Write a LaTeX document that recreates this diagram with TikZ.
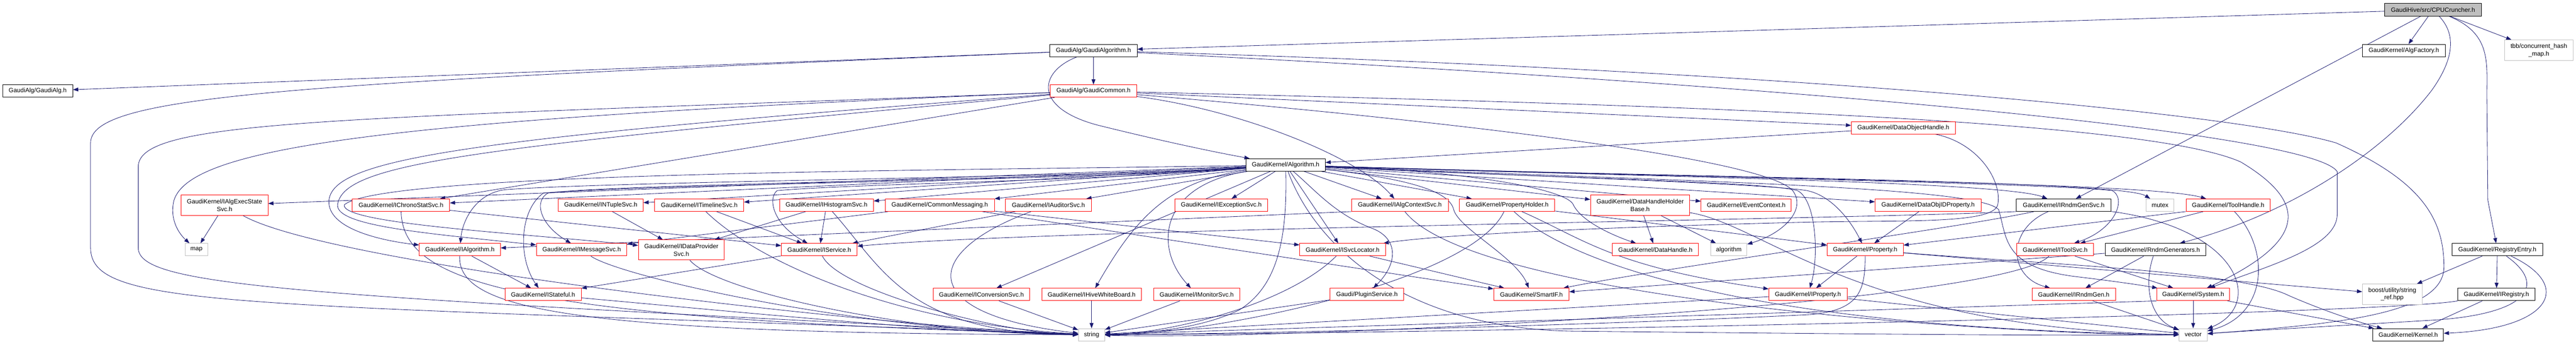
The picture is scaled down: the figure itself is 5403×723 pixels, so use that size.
\documentclass[tikz,border=0pt]{standalone}
\usepackage{fontspec}
\setmainfont{Liberation Sans}
\usetikzlibrary{arrows.meta}
\definecolor{edgec}{RGB}{25,25,112}
\definecolor{grayb}{RGB}{191,191,191}
\pgfdeclarelayer{bg}
\pgfsetlayers{bg,main}
\begin{document}
\begin{tikzpicture}[x=1pt,y=-1pt,
  box/.style={rectangle, fill=white, inner sep=0pt, minimum height=26pt, align=center, font=\fontsize{13}{16}\selectfont, line width=1pt},
  bk/.style={box, draw=black},
  rd/.style={box, draw=red},
  gy/.style={box, draw=grayb},
  tl/.style={minimum height=43pt},
  e/.style={draw=edgec, line width=0.9pt, -{Triangle[length=11pt,width=8pt]}}]
\useasboundingbox (0,0) rectangle (5403,723);
% rank 0-3
\node[bk, fill=grayb, minimum width=204pt] (cpu) at (5103,20.5) {GaudiHive/src/CPUCruncher.h};
\node[bk, minimum width=183pt] (galgorithm) at (2293.5,106) {GaudiAlg/GaudiAlgorithm.h};
\node[bk, minimum width=174pt] (algfactory) at (5042,106) {GaudiKernel/AlgFactory.h};
\node[gy, tl, minimum width=144pt] (tbb) at (5325,105.5) {tbb/concurrent\_hash\\\_map.h};
\node[bk, minimum width=147pt] (galg) at (79,191) {GaudiAlg/GaudiAlg.h};
\node[rd, minimum width=181pt] (gcommon) at (2293.5,191) {GaudiAlg/GaudiCommon.h};
\node[rd, minimum width=218pt] (doh) at (3992,268) {GaudiKernel/DataObjectHandle.h};
\node[bk, minimum width=166pt] (algorithm) at (2696.5,346) {GaudiKernel/Algorithm.h};
% rank 4
\node[rd, tl, minimum width=182pt] (ialgexec) at (471,430.5) {GaudiKernel/IAlgExecState\\Svc.h};
\node[rd, minimum width=204pt] (ichrono) at (841,430.5) {GaudiKernel/IChronoStatSvc.h};
\node[rd, minimum width=178pt] (intuple) at (1260,430.5) {GaudiKernel/INTupleSvc.h};
\node[rd, minimum width=187pt] (itimeline) at (1466.5,430.5) {GaudiKernel/ITimelineSvc.h};
\node[rd, minimum width=197pt] (ihisto) at (1733.5,430.5) {GaudiKernel/IHistogramSvc.h};
\node[rd, minimum width=229pt] (commonmsg) at (1971,430.5) {GaudiKernel/CommonMessaging.h};
\node[rd, minimum width=180pt] (iauditor) at (2199,430.5) {GaudiKernel/IAuditorSvc.h};
\node[rd, minimum width=195pt] (iexception) at (2561.5,430.5) {GaudiKernel/IExceptionSvc.h};
\node[rd, minimum width=203pt] (ialgcontext) at (2936,430.5) {GaudiKernel/IAlgContextSvc.h};
\node[rd, minimum width=200pt] (propholder) at (3161,430.5) {GaudiKernel/PropertyHolder.h};
\node[rd, tl, minimum width=208pt] (dhhb) at (3440,430.5) {GaudiKernel/DataHandleHolder\\Base.h};
\node[rd, minimum width=189pt] (eventctx) at (3662.5,430.5) {GaudiKernel/EventContext.h};
\node[rd, minimum width=222pt] (dataobjid) at (4044,430.5) {GaudiKernel/DataObjIDProperty.h};
\node[bk, minimum width=199pt] (irndmgensvc) at (4328.5,430.5) {GaudiKernel/IRndmGenSvc.h};
\node[gy, minimum width=59pt] (mutex) at (4530.5,430.5) {mutex};
\node[rd, minimum width=177pt] (toolhandle) at (4673.5,430.5) {GaudiKernel/ToolHandle.h};
% rank 5
\node[gy, minimum width=48pt] (map) at (412,524) {map};
\node[rd, minimum width=170pt] (ialgorithm) at (964.5,524) {GaudiKernel/IAlgorithm.h};
\node[rd, minimum width=190pt] (imessage) at (1220,524) {GaudiKernel/IMessageSvc.h};
\node[rd, minimum height=42pt, minimum width=180pt] (idataprov) at (1429,524.5) {GaudiKernel/IDataProvider\\Svc.h};
\node[rd, minimum width=159pt] (iservice) at (1718.5,524) {GaudiKernel/IService.h};
\node[rd, minimum width=180pt] (isvcloc) at (2816,524) {GaudiKernel/ISvcLocator.h};
\node[rd, minimum width=180pt] (datahandle) at (3472,524) {GaudiKernel/DataHandle.h};
\node[gy, minimum width=76pt] (stdalgo) at (3626,524) {algorithm};
\node[rd, minimum width=160pt] (property) at (3912,524) {GaudiKernel/Property.h};
\node[rd, minimum width=161pt] (itoolsvc) at (4310.5,524) {GaudiKernel/IToolSvc.h};
\node[bk, minimum width=211pt] (rndmgens) at (4521,524) {GaudiKernel/RndmGenerators.h};
\node[bk, minimum width=191pt] (registry) at (5238,524) {GaudiKernel/RegistryEntry.h};
% rank 6
\node[rd, minimum width=160pt] (istateful) at (1139,618) {GaudiKernel/IStateful.h};
\node[rd, minimum width=203pt] (iconversion) at (2058.5,618) {GaudiKernel/IConversionSvc.h};
\node[rd, minimum width=209pt] (ihive) at (2289.5,618) {GaudiKernel/IHiveWhiteBoard.h};
\node[rd, minimum width=181pt] (imonitor) at (2510,618) {GaudiKernel/IMonitorSvc.h};
\node[rd, minimum width=155pt] (plugin) at (2867,618) {Gaudi/PluginService.h};
\node[rd, minimum width=158pt] (smartif) at (3212,618) {GaudiKernel/SmartIF.h};
\node[rd, minimum width=164pt] (iproperty) at (3792,618) {GaudiKernel/IProperty.h};
\node[rd, minimum width=175pt] (irndmgen) at (4349.5,618) {GaudiKernel/IRndmGen.h};
\node[rd, minimum width=153pt] (system) at (4600,618) {GaudiKernel/System.h};
\node[gy, tl, minimum width=125pt] (stringref) at (5017.5,617.5) {boost/utility/string\\\_ref.hpp};
\node[bk, minimum width=162pt] (iregistry) at (5236,618) {GaudiKernel/IRegistry.h};
% rank 7
\node[gy, minimum width=55pt] (string) at (2289.5,702.5) {string};
\node[gy, minimum width=59pt] (vector) at (4600,702.5) {vector};
\node[bk, minimum width=148pt] (kernel) at (5051,702.5) {GaudiKernel/Kernel.h};

\begin{pgfonlayer}{bg}
% CPUCruncher
\draw[e] (cpu) -- (galgorithm);
\draw[e] (cpu) -- (algfactory);
\draw[e] (cpu) -- (tbb);
\draw[e] (cpu) -- (irndmgensvc);
\draw[e] (cpu) .. controls (5225,70) and (5216,130) .. (5216,200) -- (5218,420) -- (registry);
\draw[e] (cpu) .. controls (5150,70) and (5150,120) .. (5100,190) .. controls (5000,320) and (4800,450) .. (rndmgens);
% GaudiAlgorithm
\draw[e] (galgorithm) -- (galg);
\draw[e] (galgorithm) -- (gcommon);
\draw[e] (galgorithm) .. controls (2180,150) and (2165,225) .. (2300,262) .. controls (2420,292) and (2540,318) .. (algorithm);
\draw[e] (galgorithm) .. controls (600,175) and (190,200) .. (190,300) -- (190,520) .. controls (190,650) and (500,635) .. (string);
\draw[e] (galgorithm) .. controls (3800,150) and (4700,240) .. (4900,300) .. controls (5080,380) and (5126,460) .. (5126,560) .. controls (5126,660) and (4900,680) .. (vector);
\draw[e] (galgorithm) .. controls (3800,180) and (4850,280) .. (4902,360) -- (4902,450) .. controls (4902,520) and (4750,560) .. (system);
% GaudiCommon
\draw[e] (gcommon) -- (doh);
\draw[e] (gcommon) -- (ichrono);
\draw[e] (gcommon) .. controls (800,250) and (400,310) .. (365,420) .. controls (355,460) and (375,490) .. (map);
\draw[e] (gcommon) .. controls (1000,290) and (700,330) .. (690,420) .. controls (685,480) and (800,505) .. (ialgorithm);
\draw[e] (gcommon) .. controls (1000,310) and (720,340) .. (708,430) .. controls (705,475) and (900,490) .. (imessage);
\draw[e] (gcommon) .. controls (700,250) and (290,250) .. (290,350) -- (290,520) .. controls (290,600) and (600,620) .. (string);
\draw[e] (gcommon) .. controls (2600,230) and (2850,330) .. (ialgcontext);
\draw[e] (gcommon) .. controls (3000,250) and (3700,330) .. (3760,400) .. controls (3790,440) and (3740,490) .. (stdalgo);
\draw[e] (gcommon) .. controls (3500,220) and (4500,250) .. (4700,340) .. controls (4850,430) and (4830,510) .. (system);
% DataObjectHandle
\draw[e] (doh) -- (algorithm);
\draw[e] (doh) .. controls (4150,300) and (4200,380) .. (4190,430) .. controls (4180,470) and (4000,462) .. (3800,466) .. controls (3300,478) and (3000,495) .. (isvcloc);
% Algorithm -> rank 4
\draw[e] (algorithm) -- (ialgexec);
\draw[e] (algorithm) -- (ichrono);
\draw[e] (algorithm) -- (intuple);
\draw[e] (algorithm) -- (itimeline);
\draw[e] (algorithm) -- (ihisto);
\draw[e] (algorithm) -- (commonmsg);
\draw[e] (algorithm) -- (iauditor);
\draw[e] (algorithm) -- (iexception);
\draw[e] (algorithm) -- (ialgcontext);
\draw[e] (algorithm) -- (propholder);
\draw[e] (algorithm) -- (dhhb);
\draw[e] (algorithm) -- (eventctx);
\draw[e] (algorithm) -- (dataobjid);
\draw[e] (algorithm) .. controls (3400,370) and (4200,380) .. (irndmgensvc);
\draw[e] (algorithm) .. controls (3500,372) and (4450,378) .. (mutex);
\draw[e] (algorithm) .. controls (3500,374) and (4500,380) .. (toolhandle);
% Algorithm -> lower ranks
\draw[e] (algorithm) .. controls (2300,372) and (1300,380) .. (1060,398) .. controls (1000,405) and (970,460) .. (ialgorithm);
\draw[e] (algorithm) .. controls (2300,375) and (1300,385) .. (1150,405) .. controls (1120,420) and (1130,470) .. (imessage);
\draw[e] (algorithm) .. controls (2300,380) and (1800,385) .. (1630,400) .. controls (1610,415) and (1620,470) .. (iservice);
\draw[e] (algorithm) .. controls (2300,378) and (1400,385) .. (1140,405) .. controls (1090,440) and (1085,540) .. (istateful);
\draw[e] (algorithm) .. controls (2000,358) and (800,360) .. (722,430) .. controls (715,470) and (1100,490) .. (idataprov);
\draw[e] (algorithm) -- (isvcloc);
\draw[e] (algorithm) -- (iconversion);
\draw[e] (algorithm) .. controls (2450,380) and (2380,460) .. (ihive);
\draw[e] (algorithm) .. controls (2430,390) and (2420,520) .. (imonitor);
\draw[e] (algorithm) .. controls (2760,400) and (2800,450) .. (2880,480) .. controls (2930,500) and (2935,550) .. (plugin);
\draw[e] (algorithm) .. controls (3100,360) and (3290,400) .. (3300,430) .. controls (3320,470) and (3400,500) .. (datahandle);
\draw[e] (algorithm) .. controls (2950,375) and (3040,400) .. (3049,440) .. controls (3060,480) and (3180,540) .. (smartif);
\draw[e] (algorithm) .. controls (3200,370) and (3700,385) .. (3790,400) .. controls (3840,410) and (3880,460) .. (property);
\draw[e] (algorithm) .. controls (3200,372) and (3700,380) .. (3770,400) .. controls (3810,420) and (3815,540) .. (iproperty);
\draw[e] (algorithm) .. controls (3500,370) and (4300,385) .. (4430,400) .. controls (4460,415) and (4440,480) .. (itoolsvc);
\draw[e] (algorithm) .. controls (3500,380) and (4150,390) .. (4192,440) .. controls (4210,500) and (4200,560) .. (4350,580) .. controls (4450,592) and (4500,600) .. (system);
\draw[e] (algorithm) .. controls (2700,500) and (2680,600) .. (2600,650) .. controls (2520,690) and (2400,700) .. (string);
\draw[e] (algorithm) .. controls (2760,520) and (2950,690) .. (3300,695) .. controls (3800,700) and (4300,705) .. (vector);
% rank 4 sources
\draw[e] (ialgexec) -- (map);
\draw[e] (ialgexec) .. controls (700,560) and (1900,690) .. (string);
\draw[e] (ichrono) .. controls (845,600) and (1100,668) .. (string);
\draw[e] (ichrono) -- (iservice);
\draw[e] (intuple) -- (idataprov);
\draw[e] (itimeline) -- (iservice);
\draw[e] (itimeline) .. controls (1600,560) and (1900,680) .. (string);
\draw[e] (ihisto) -- (idataprov);
\draw[e] (ihisto) -- (iservice);
\draw[e] (ihisto) .. controls (1850,560) and (1900,700) .. (string);
\draw[e] (commonmsg) -- (imessage);
\draw[e] (commonmsg) -- (smartif);
\draw[e] (commonmsg) -- (isvcloc);
\draw[e] (iauditor) -- (iservice);
\draw[e] (iauditor) .. controls (1930,530) and (1920,660) .. (string);
\draw[e] (ialgcontext.south west) -- (ialgorithm);
\draw[e] (ialgcontext) .. controls (3100,640) and (4300,705) .. (vector);
\draw[e] (propholder) -- (property);
\draw[e] (propholder) .. controls (3320,500) and (3380,560) .. (iproperty);
\draw[e] (propholder) .. controls (3080,600) and (2500,705) .. (string);
\draw[e] (propholder) .. controls (3300,560) and (3700,690) .. (vector);
\draw[e] (dhhb) -- (datahandle);
\draw[e] (dhhb) -- (stdalgo);
\draw[e] (dhhb) .. controls (3700,470) and (3900,690) .. (vector);
\draw[e] (dataobjid) -- (property);
\draw[e] (irndmgensvc) .. controls (4210,480) and (4210,580) .. (irndmgen);
\draw[e] (irndmgensvc.south west) .. controls (3900,460) and (2200,480) .. (iservice);
\draw[e] (irndmgensvc) .. controls (4100,480) and (3500,560) .. (smartif);
\draw[e] (irndmgensvc) .. controls (4700,480) and (4750,640) .. (vector);
\draw[e] (toolhandle) -- (itoolsvc);
\draw[e] (toolhandle.south west) -- (property);
\draw[e] (toolhandle) .. controls (4760,520) and (4760,660) .. (vector);
% rank 5 sources
\draw[e] (ialgorithm) -- (istateful);
\draw[e] (ialgorithm) .. controls (960,650) and (1200,700) .. (string);
\draw[e] (imessage) .. controls (1300,580) and (1800,695) .. (string);
\draw[e] (idataprov) .. controls (1500,610) and (1900,700) .. (string);
\draw[e] (iservice) -- (istateful);
\draw[e] (iservice) .. controls (1760,610) and (2100,700) .. (string);
\draw[e] (isvcloc) -- (smartif);
\draw[e] (isvcloc) .. controls (2700,640) and (2450,700) .. (string);
\draw[e] (property) -- (iproperty);
\draw[e] (property) .. controls (3912,610) and (3900,650) .. (3800,660) .. controls (3400,680) and (2700,700) .. (string);
\draw[e] (property) .. controls (4300,555) and (4700,570) .. (4800,620) .. controls (4880,655) and (4960,680) .. (kernel);
\draw[e] (property) -- (stringref);
\draw[e] (itoolsvc) -- (system);
\draw[e] (itoolsvc) .. controls (4200,640) and (2700,715) .. (string);
\draw[e] (rndmgens) -- (irndmgen);
\draw[e] (rndmgens) -- (smartif);
\draw[e] (rndmgens) .. controls (4495,600) and (4510,670) .. (vector);
\draw[e] (registry) -- (stringref);
\draw[e] (registry) -- (iregistry);
\draw[e] (registry) .. controls (5400,600) and (5350,690) .. (kernel);
\draw[e] (registry) .. controls (5345,600) and (5300,660) .. (5100,672) .. controls (4900,684) and (4700,695) .. (vector);
% rank 6 sources
\draw[e] (istateful) .. controls (1500,650) and (2000,700) .. (string);
\draw[e] (iconversion) -- (string);
\draw[e] (ihive) -- (string);
\draw[e] (imonitor) -- (string);
\draw[e] (plugin) -- (string);
\draw[e] (iproperty) -- (string);
\draw[e] (iproperty) -- (vector);
\draw[e] (irndmgen) -- (vector);
\draw[e] (system) -- (vector);
\draw[e] (system) -- (kernel);
\draw[e] (system.south west) -- (string);
\draw[e] (iregistry) -- (kernel);
\draw[e] (iregistry.south west) .. controls (5000,660) and (3000,700) .. (string);
\end{pgfonlayer}
\end{tikzpicture}
\end{document}
